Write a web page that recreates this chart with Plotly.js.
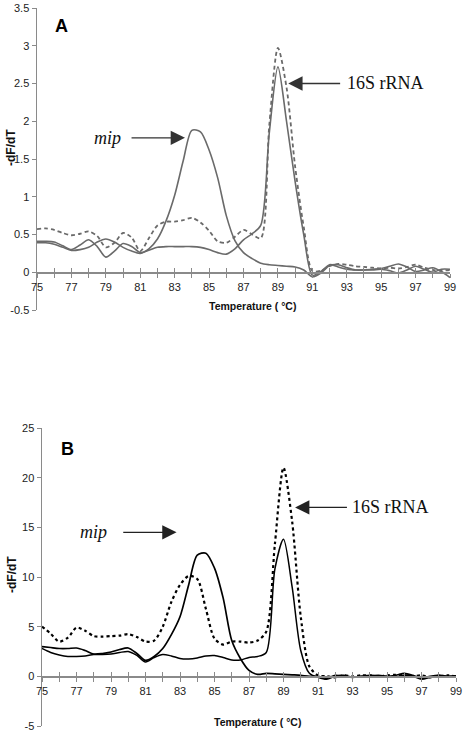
<!DOCTYPE html>
<html>
<head>
<meta charset="utf-8">
<script src="https://cdn.plot.ly/plotly-3.0.1.min.js"></script>
<style>html,body{margin:0;padding:0;background:#fff;}#chart{width:464px;height:735px;}</style>
</head>
<body>
<div id="chart"></div>
<script>
// Temperature grid (°C)
const temps = [75,75.5,76,76.5,77,77.5,78,78.5,79,79.5,80,80.5,81,81.5,82,82.5,83,83.5,84,84.5,85,85.5,86,86.5,87,87.5,88,88.5,89,89.5,90,90.5,91,91.5,92,92.5,93,93.5,94,94.5,95,95.5,96,96.5,97,97.5,98,98.5,99];

// Panel A (-dF/dT)
const aMip = [0.39,0.39,0.37,0.33,0.29,0.30,0.33,0.40,0.44,0.40,0.33,0.28,0.25,0.31,0.44,0.68,1.02,1.48,1.88,1.86,1.62,1.25,0.75,0.42,0.26,0.18,0.12,0.10,0.09,0.08,0.07,0.03,-0.06,-0.01,0.09,0.10,0.06,0.03,0.03,0.04,0.05,0.08,0.11,0.07,0.01,0.03,0.06,0.01,-0.07];
const a16S = [0.41,0.41,0.40,0.35,0.30,0.36,0.43,0.34,0.20,0.28,0.38,0.34,0.26,0.29,0.33,0.34,0.34,0.34,0.34,0.33,0.30,0.26,0.24,0.31,0.43,0.51,0.62,1.85,2.72,2.00,1.20,0.50,-0.04,0.01,0.10,0.07,0.04,0.03,0.03,0.03,0.04,0.02,-0.01,0.03,0.08,0.04,0.00,0.04,0.04];
const aBoth = [0.57,0.58,0.56,0.52,0.49,0.51,0.54,0.48,0.33,0.39,0.52,0.46,0.28,0.45,0.62,0.67,0.67,0.69,0.72,0.66,0.55,0.41,0.39,0.47,0.56,0.50,0.45,1.95,2.97,2.45,1.40,0.60,0.02,0.02,0.08,0.11,0.10,0.08,0.07,0.06,0.05,0.06,0.05,0.07,0.10,0.06,0.03,0.02,0.03];

// Panel B (-dF/dT)
const bMip = [3.0,2.9,2.8,2.8,2.85,2.6,2.25,2.3,2.45,2.7,2.85,2.3,1.6,2.0,2.8,4.2,6.0,9.2,12.2,12.4,10.9,7.9,3.6,1.8,0.6,0.2,0.3,0.25,0.2,0.15,0.1,0.0,0.0,-0.2,0.1,0.0,-0.1,0.0,0.1,0.05,0.0,0.1,0.3,0.1,-0.2,0.0,0.1,0.0,0.05];
const b16S = [2.8,2.4,2.15,2.0,2.0,2.05,2.2,2.2,2.25,2.4,2.5,2.1,1.45,1.9,2.2,2.05,1.8,1.75,1.85,2.05,2.1,1.9,1.65,1.65,1.9,2.0,2.4,10.8,13.8,9.0,2.6,0.3,-0.1,-0.3,0.0,0.1,-0.1,0.0,0.0,0.1,0.0,-0.1,0.1,0.0,-0.3,-0.1,0.1,0.0,0.0];
const bBoth = [5.0,4.3,3.5,3.9,4.9,4.6,4.05,4.0,4.05,4.1,4.25,3.95,3.5,3.6,5.0,7.5,9.2,10.1,9.8,6.8,3.8,3.2,3.5,3.5,3.4,3.6,4.5,13.3,21.0,15.6,6.0,1.0,0.1,0.0,-0.1,0.1,0.0,0.1,0.1,0.0,0.1,0.15,0.1,0.0,0.1,-0.1,0.0,0.1,0.0];

// Tick values / labels
const xTickVals = [75,76,77,78,79,80,81,82,83,84,85,86,87,88,89,90,91,92,93,94,95,96,97,98,99];
const xLabelVals = [75,77,79,81,83,85,87,89,91,93,95,97,99];
const yTicksA = [-0.5,0,0.5,1,1.5,2,2.5,3,3.5];
const yTicksB = [-5,0,5,10,15,20,25];

// Text
const panelLabels = ['A','B'];
const yTitle = '-dF/dT';
const xTitle = 'Temperature ( \u00B0C)';
const mipLabel = '<i>mip</i>';
const rnaLabel = '16S rRNA';

// Layout geometry (paper px)
const W = 464, H = 735;
const rangeX = [75, 99];
const rangeYA = [-0.5, 3.5], rangeYB = [-5, 25];
const domXA = [37 / W, 450 / W], domYA = [1 - 310 / H, 1 - 8 / H];
const domXB = [42 / W, 456 / W], domYB = [1 - 726 / H, 1 - 428 / H];
const zeroPos = (dom, rng) => dom[0] + (0 - rng[0]) / (rng[1] - rng[0]) * (dom[1] - dom[0]);

const sans = 'Liberation Sans, Arial, sans-serif';
const serif = 'Liberation Serif, Times New Roman, serif';
const axisGray = '#8a8a8a';
const grayA = '#6a6a6a';

// main axis: labelled odd ticks + unlabelled even ticks as minor, all pointing down
function xAxis(dom, pos) {
  return {
    domain: dom, range: rangeX, anchor: 'free', position: pos,
    tickmode: 'array', tickvals: xLabelVals, ticktext: xLabelVals.map(v => String(v)),
    ticks: 'outside', ticklen: 4, tickwidth: 1, tickcolor: axisGray,
    minor: {tickmode: 'array', tickvals: xTickVals, ticks: 'outside', ticklen: 4, tickwidth: 1, tickcolor: axisGray, showgrid: false},
    showline: true, linecolor: axisGray, linewidth: 1.5,
    showgrid: false, zeroline: false, showticklabels: true,
    tickfont: {family: sans, size: 11, color: '#222'}, fixedrange: true
  };
}
// overlay axis: same ticks pointing up so that they cross the axis line
function xAxisOverlay(dom, pos, base) {
  return {
    domain: dom, range: rangeX, anchor: 'free', position: pos, overlaying: base,
    tickmode: 'array', tickvals: xTickVals, showticklabels: false,
    ticks: 'inside', ticklen: 4, tickwidth: 1, tickcolor: axisGray,
    showline: false, showgrid: false, zeroline: false, fixedrange: true
  };
}
function yAxis(dom, rng, ticks, anchor) {
  return {
    domain: dom, range: rng, anchor: anchor,
    tickmode: 'array', tickvals: ticks, ticktext: ticks.map(v => String(v)),
    ticks: 'outside', ticklen: 4, tickwidth: 1, tickcolor: axisGray,
    showline: true, linecolor: axisGray, linewidth: 1.5,
    showgrid: false, zeroline: false,
    tickfont: {family: sans, size: 11, color: '#222'}, fixedrange: true
  };
}

const line = (y, xa, ya, color, width, dash) => ({
  type: 'scatter', mode: 'lines', x: temps, y: y, xaxis: xa, yaxis: ya,
  line: {color: color, width: width, dash: dash || 'solid', shape: 'spline', smoothing: 0.8},
  hoverinfo: 'skip', showlegend: false, cliponaxis: false
});

const data = [
  line(aMip, 'x', 'y', grayA, 1.6),
  line(a16S, 'x', 'y', grayA, 1.6),
  line(aBoth, 'x3', 'y', grayA, 1.8, '4px,3px'),
  line(bMip, 'x2', 'y2', '#000', 1.7),
  line(b16S, 'x2', 'y2', '#000', 1.5),
  line(bBoth, 'x4', 'y2', '#000', 2.2, '3px,3px')
];

const posA = zeroPos(domYA, rangeYA);
const posB = zeroPos(domYB, rangeYB);

// label with an arrow: text sits at (textX, yv), arrow tip at (tipX, yv)
const labelArrow = (xref, yref, text, textX, tipX, yv, color, gap) => ({
  xref: xref, yref: yref, axref: xref, ayref: yref,
  x: tipX, y: yv, ax: textX, ay: yv, text: text, showarrow: true,
  font: {family: serif, size: 18, color: '#111'},
  arrowhead: 2, arrowsize: 2.2, arrowwidth: 1.3, arrowcolor: color,
  standoff: 0, borderwidth: 0, borderpad: gap
});
const txt = (xref, yref, x, y, text, font, extra) => Object.assign({
  xref: xref, yref: yref, x: x, y: y, text: text, showarrow: false, font: font,
  xanchor: 'center', yanchor: 'middle'
}, extra || {});

const titleFont = {family: sans, size: 10.5, color: '#111', weight: 'bold'};
const yTitleFont = {family: sans, size: 12, color: '#111', weight: 'bold'};
const panelFont = {family: sans, size: 18, color: '#000', weight: 'bold'};

const annotations = [
  // Panel A
  txt('x', 'y', 76.45, 3.26, '<b>' + panelLabels[0] + '</b>', panelFont),
  labelArrow('x', 'y', mipLabel, 79.07, 83.6, 1.78, '#333', 11),
  labelArrow('x', 'y', rnaLabel, 95.26, 89.6, 2.5, '#333', 7),
  txt('paper', 'paper', 11 / W, 1 - 148 / H, '<b>' + yTitle + '</b>', yTitleFont, {textangle: -90}),
  txt('paper', 'paper', 252 / W, 1 - 306 / H, '<b>' + xTitle + '</b>', titleFont),
  // Panel B
  txt('x2', 'y2', 76.5, 22.9, '<b>' + panelLabels[1] + '</b>', panelFont),
  labelArrow('x2', 'y2', mipLabel, 78.0, 82.8, 14.5, '#222', 16),
  labelArrow('x2', 'y2', rnaLabel, 95.2, 89.67, 17.0, '#222', 5),
  txt('paper', 'paper', 12 / W, 1 - 575 / H, '<b>' + yTitle + '</b>', yTitleFont, {textangle: -90}),
  txt('paper', 'paper', 257 / W, 1 - 722 / H, '<b>' + xTitle + '</b>', titleFont)
];

const layout = {
  width: W, height: H,
  margin: {l: 0, r: 0, t: 0, b: 0, pad: 0},
  paper_bgcolor: '#fff', plot_bgcolor: 'rgba(0,0,0,0)',
  showlegend: false,
  font: {family: sans, size: 11, color: '#222'},
  xaxis: xAxis(domXA, posA),
  yaxis: yAxis(domYA, rangeYA, yTicksA, 'x'),
  xaxis3: xAxisOverlay(domXA, posA, 'x'),
  xaxis2: xAxis(domXB, posB),
  yaxis2: yAxis(domYB, rangeYB, yTicksB, 'x2'),
  xaxis4: xAxisOverlay(domXB, posB, 'x2'),
  annotations: annotations
};

Plotly.newPlot('chart', data, layout, {staticPlot: true, displayModeBar: false});
</script>
</body>
</html>
